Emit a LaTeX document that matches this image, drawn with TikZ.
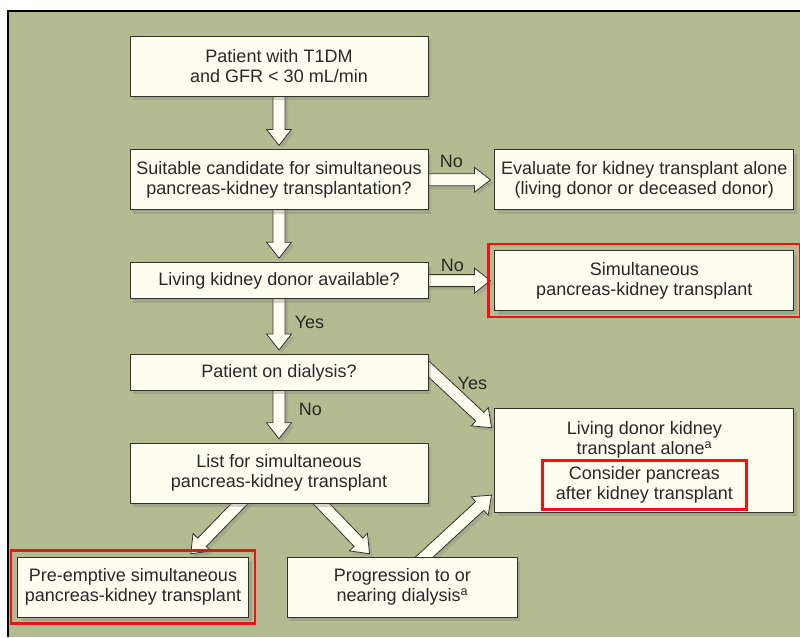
\documentclass[tikz,border=0pt]{standalone}
\usepackage{fontspec}
\setmainfont{Liberation Sans}
\usetikzlibrary{positioning,calc,fit,shadows}

\definecolor{bggreen}{RGB}{180,187,144}
\definecolor{cream}{RGB}{255,253,240}
\definecolor{boxline}{RGB}{50,50,45}
\definecolor{txt}{RGB}{40,40,40}
\definecolor{redline}{RGB}{235,20,20}

\pgfdeclarelayer{back}
\pgfsetlayers{back,main}

% block arrow drawn behind the boxes
\newcommand{\blockarrow}[2]{%
  \begin{pgfonlayer}{back}
  \path (#1) coordinate (ba-s) (#2) coordinate (ba-e0);
  \path ($(ba-e0)!4pt!(ba-s)$) coordinate (ba-e);
  \path ($(ba-e)!16pt!(ba-s)$) coordinate (ba-h);
  \draw[arrowbody] ($(ba-s)!6pt!90:(ba-e)$) -- ($(ba-h)!6pt!-90:(ba-s)$)
    -- ($(ba-h)!12.5pt!-90:(ba-s)$) -- (ba-e) -- ($(ba-h)!12.5pt!90:(ba-s)$)
    -- ($(ba-h)!6pt!90:(ba-s)$) -- ($(ba-s)!6pt!-90:(ba-e)$) -- cycle;
  \end{pgfonlayer}%
}

\begin{document}
\begin{tikzpicture}[
      x=1pt, y=1pt,
      box/.style={
        draw=boxline, fill=cream, line width=0.8pt, text=txt, align=center,
        font=\fontsize{18}{20}\selectfont, inner sep=0pt, minimum width=298pt,
        drop shadow={shadow xshift=3pt, shadow yshift=-4pt, opacity=0.35}
      },
      twoline/.style={box, minimum height=60pt},
      oneline/.style={box, minimum height=36pt},
      lbl/.style={text=txt, font=\fontsize{18}{20}\selectfont, inner sep=0pt, align=center},
      redbox/.style={draw=redline, line width=2.5pt, inner sep=6pt},
      arrowbody/.style={
        draw=boxline, fill=cream, line width=0.8pt, line join=miter,
        drop shadow={shadow xshift=3pt, shadow yshift=-3pt, opacity=0.3}
      },
      node distance=53pt
      ]

  \useasboundingbox (0,0) rectangle (800,-637);
  \begin{pgfonlayer}{back}
    \fill[bggreen] (8,-11) rectangle (800,-637);
    \draw[black, line width=2.5pt] (8,-637) -- (8,-11) -- (800,-11);
  \end{pgfonlayer}

  \node[twoline] (b1) at (279,-66) {Patient with T1DM\\and GFR < 30 mL/min};
  \node[twoline, below = of b1] (b2) {Suitable candidate for simultaneous\\pancreas-kidney transplantation?};
  \node[oneline, below = 52pt of b2] (b3) {Living kidney donor available?};
  \node[oneline, below = 55pt of b3] (b6) {Patient on dialysis?};
  \node[twoline, below = 52pt of b6] (b7) {List for simultaneous\\pancreas-kidney transplant};
  \node[twoline, minimum width=299pt, right = 66pt of b2] (b4) {Evaluate for kidney transplant alone\\(living donor or deceased donor)};
  \node[twoline, minimum width=299pt, right = 66pt of b3] (b5) {Simultaneous\\pancreas-kidney transplant};
  \node[box, minimum width=299pt, minimum height=104pt, below = 97pt of b5] (b8) {};
  \node[lbl] (b8a) at ([yshift=-32pt]b8.north) {Living donor kidney\\transplant alone\textsuperscript{a}};
  \node[lbl, draw=redline, line width=2.5pt, minimum width=204pt, minimum height=49pt] (b8b)
    at ([yshift=-77pt]b8.north) {Consider pancreas\\after kidney transplant};
  \node[twoline, minimum width=231pt, below = of b7, xshift=-146pt] (b9) {Pre-emptive simultaneous\\pancreas-kidney transplant};
  \node[twoline, minimum width=230pt, right = 38pt of b9] (b10) {Progression to or\\nearing dialysis\textsuperscript{a}};

  % red frames
  \node[redbox, fit=(b5)] (r5) {};
  \node[redbox, fit=(b9)] (r9) {};

  % arrow ends
  \coordinate (yes-s) at ([xshift=-10pt,yshift=13pt]b6.east);
  \coordinate (yes-e) at ([yshift=30pt]b8.west);
  \coordinate (pre-s) at ([xshift=-33.5pt,yshift=6pt]b7.south);
  \coordinate (pre-e) at ([xshift=55pt]b9.north);
  \coordinate (pro-s) at ([xshift=36.5pt,yshift=6pt]b7.south);
  \coordinate (pro-e) at ([xshift=-30pt]b10.north);
  \coordinate (liv-s) at ([xshift=16pt,yshift=-6pt]b10.north);
  \coordinate (liv-e) at ([yshift=-32pt]b8.west);

  % Connect the nodes
  \blockarrow{b1}{b2.north}
  \blockarrow{b2}{b3.north}
  \blockarrow{b3}{b6.north}
  \blockarrow{b6}{b7.north}
  \blockarrow{b2}{b4.west}
  \blockarrow{b3}{b5.west}
  \blockarrow{yes-s}{yes-e}
  \blockarrow{pre-s}{pre-e}
  \blockarrow{pro-s}{pro-e}
  \blockarrow{liv-s}{liv-e}

  % labels
  \node[lbl] (no1) at ([shift={(23pt,18pt)}]b2.east) {No};
  \node[lbl] (no2) at ([shift={(24pt,15pt)}]b3.east) {No};
  \node[lbl] (yes1) at ([shift={(30.5pt,-23pt)}]b3.south) {Yes};
  \node[lbl] (no3) at ([shift={(31.5pt,-19pt)}]b6.south) {No};
  \node[lbl] (yes2) at ([shift={(44pt,-11pt)}]b6.east) {Yes};

\end{tikzpicture}
\end{document}
